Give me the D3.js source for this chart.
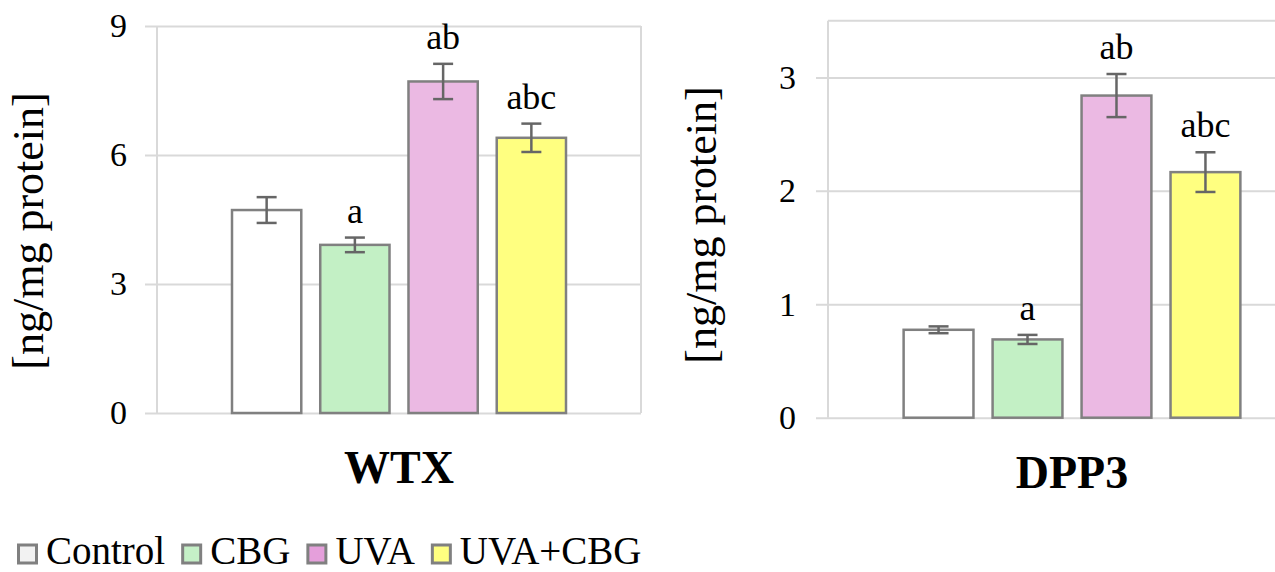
<!DOCTYPE html>
<html>
<head>
<meta charset="utf-8">
<script src="https://cdn.jsdelivr.net/npm/d3@7"></script>
<style>
  html, body { margin: 0; padding: 0; background: #ffffff; }
  svg { display: block; }
</style>
</head>
<body>
<svg id="chart" width="1275" height="572"></svg>
<script>
// ---- data ----
const groups = ["Control", "CBG", "UVA", "UVA+CBG"];
const groupColors = ["#ffffff", "#c3f0c5", "#ebb9e3", "#ffff80"];
const legendColors = ["#f2f2f2", "#c5f0c7", "#e59fdb", "#ffff80"];
const letters = ["", "a", "ab", "abc"];

const wtxValues = [4.72, 3.91, 7.71, 6.40];
const wtxErrors = [0.30, 0.17, 0.41, 0.33];
const wtxTicks = [0, 3, 6, 9];

const dppValues = [0.775, 0.69, 2.84, 2.165];
const dppErrors = [0.03, 0.04, 0.19, 0.175];
const dppTicks = [0, 1, 2, 3];

const panelTitles = ["WTX", "DPP3"];
const yTitle = "[ng/mg protein]";

// ---- drawing ----
const FONT = "'Liberation Serif', 'Times New Roman', Times, 'DejaVu Serif', serif";
const svg = d3.select("#chart");
const gridColor = "#d9d9d9";
const barStroke = "#808080";
const errColor = "#666666";

function txt(sel) {
  return sel.style("font-family", FONT).style("fill", "#000");
}

function panel(cfg) {
  const g = svg.append("g");
  const x = d3.scaleBand().domain(groups).range([cfg.x0, cfg.x1])
    .paddingInner(0.215).paddingOuter(0.85);
  const y = d3.scaleLinear().domain([0, cfg.max]).range([cfg.yBottom, cfg.yTop]);

  // gridlines + tick labels
  const axis = d3.axisLeft(y).tickValues(cfg.ticks)
    .tickSize(-(cfg.x1 - cfg.x0 + 12)).tickPadding(cfg.tickPad)
    .tickFormat(d3.format("d"));
  const ax = g.append("g").attr("transform", `translate(${cfg.x0 - 12},0)`).call(axis);
  ax.select(".domain").remove();
  ax.selectAll(".tick line").attr("stroke", gridColor).attr("stroke-width", 2);
  txt(ax.selectAll(".tick text")).style("font-size", "34px");

  // plot borders
  g.append("line").attr("x1", cfg.x0).attr("x2", cfg.x0)
    .attr("y1", y(cfg.max)).attr("y2", y(0)).attr("stroke", gridColor).attr("stroke-width", 2);
  if (cfg.rightBorder) {
    g.append("line").attr("x1", cfg.x1).attr("x2", cfg.x1)
      .attr("y1", y(cfg.max)).attr("y2", y(0)).attr("stroke", gridColor).attr("stroke-width", 2);
  }
  if (cfg.topBorder) {
    g.append("line").attr("x1", cfg.x0).attr("x2", cfg.x1)
      .attr("y1", y(cfg.max)).attr("y2", y(cfg.max)).attr("stroke", gridColor).attr("stroke-width", 2);
  }

  const data = groups.map((k, i) => ({ k, v: cfg.values[i], e: cfg.errors[i], c: groupColors[i], l: letters[i] }));

  // bars
  g.selectAll("rect.bar").data(data).enter().append("rect")
    .attr("class", "bar")
    .attr("x", d => x(d.k)).attr("width", x.bandwidth())
    .attr("y", d => y(d.v)).attr("height", d => y(0) - y(d.v))
    .attr("fill", d => d.c).attr("stroke", barStroke).attr("stroke-width", 2.5);

  // error bars
  const eb = g.selectAll("g.err").data(data).enter().append("g").attr("class", "err");
  const cx = d => x(d.k) + x.bandwidth() / 2;
  eb.append("line").attr("x1", cx).attr("x2", cx)
    .attr("y1", d => y(d.v + d.e)).attr("y2", d => y(d.v - d.e))
    .attr("stroke", errColor).attr("stroke-width", 2.5);
  eb.append("line").attr("x1", d => cx(d) - 10).attr("x2", d => cx(d) + 10)
    .attr("y1", d => y(d.v + d.e)).attr("y2", d => y(d.v + d.e))
    .attr("stroke", errColor).attr("stroke-width", 2.5);
  eb.append("line").attr("x1", d => cx(d) - 10).attr("x2", d => cx(d) + 10)
    .attr("y1", d => y(d.v - d.e)).attr("y2", d => y(d.v - d.e))
    .attr("stroke", errColor).attr("stroke-width", 2.5);

  // significance letters
  txt(g.selectAll("text.sig").data(data.filter(d => d.l)).enter().append("text")
    .attr("class", "sig").attr("text-anchor", "middle")
    .attr("x", cx).attr("y", d => y(d.v + d.e) - 15).text(d => d.l))
    .style("font-size", "36px");

  // y title
  txt(g.append("text").attr("text-anchor", "middle")
    .attr("transform", `translate(${cfg.titleX},${cfg.titleY}) rotate(-90)`)
    .text(yTitle)).style("font-size", "44px");

  // category label
  txt(g.append("text").attr("text-anchor", "middle")
    .attr("x", (cfg.x0 + cfg.x1) / 2).attr("y", cfg.catY).text(cfg.title))
    .style("font-size", "46px").style("font-weight", "bold");
}

panel({ x0: 157, x1: 641, yTop: 26, yBottom: 413, max: 9, ticks: wtxTicks,
  values: wtxValues, errors: wtxErrors, tickPad: 18, rightBorder: true, topBorder: false,
  titleX: 43, titleY: 231, catY: 483, title: panelTitles[0] });

panel({ x0: 828, x1: 1316, yTop: 20.7, yBottom: 417.7, max: 3.5, ticks: dppTicks,
  values: dppValues, errors: dppErrors, tickPad: 20, rightBorder: false, topBorder: true,
  titleX: 716, titleY: 225, catY: 488, title: panelTitles[1] });

// legend
const leg = svg.append("g");
let lx = 17;
groups.forEach((name, i) => {
  leg.append("rect").attr("x", lx + 1.5).attr("y", 545).attr("width", 18).attr("height", 18)
    .attr("fill", legendColors[i]).attr("stroke", barStroke).attr("stroke-width", 3);
  const t = txt(leg.append("text").attr("x", lx + 29).attr("y", 564).text(name))
    .style("font-size", "39px");
  lx = lx + 29 + t.node().getComputedTextLength() + 16;
});
</script>
</body>
</html>
